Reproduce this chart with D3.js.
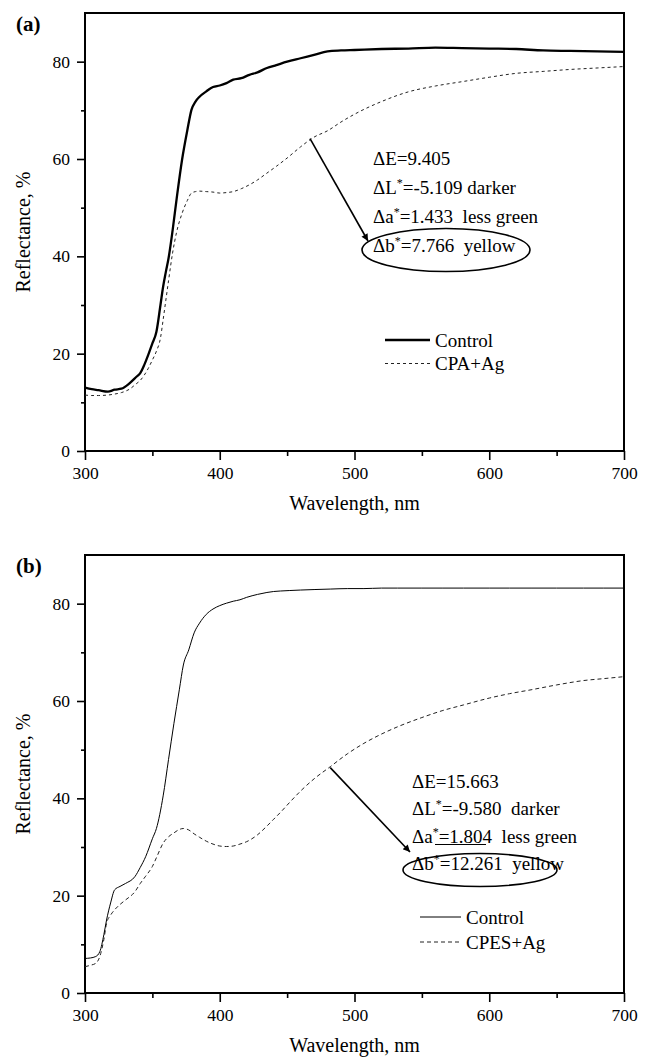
<!DOCTYPE html>
<html lang="en">
<head>
<meta charset="utf-8">
<title>Reflectance spectra</title>
<script src="https://d3js.org/d3.v7.min.js"></script>
<style>
  body { margin: 0; background: #fff; }
  svg { display: block; font-family: "Liberation Serif", "Times New Roman", serif; }
  text { white-space: pre; }
</style>
</head>
<body>
<div id="main"></div>
<script>
// ---- data ----
var wlA = [300, 305, 310, 317, 322, 327, 333, 338, 341, 344, 347, 350, 353, 356, 358, 360, 362, 365, 368, 372,
           376, 379, 382, 385, 390, 395, 400, 405, 410, 416, 422, 428, 435, 442, 450, 460, 470, 480, 490, 500,
           520, 540, 560, 580, 600, 620, 640, 660, 680, 700];
var controlA = [13.0, 12.7, 12.5, 12.2, 12.6, 12.8, 13.9, 15.2, 16.0, 17.7, 19.8, 22.1, 24.5, 30.0, 33.8, 36.8, 39.6, 45.3, 51.8, 59.8,
                66.0, 70.1, 71.8, 72.8, 73.9, 74.8, 75.1, 75.6, 76.3, 76.6, 77.3, 77.8, 78.7, 79.3, 80.0, 80.7, 81.4, 82.1, 82.3, 82.4,
                82.6, 82.7, 82.9, 82.8, 82.7, 82.6, 82.3, 82.2, 82.1, 82.0];
var cpaA = [11.5, 11.4, 11.4, 11.5, 11.7, 12.0, 12.7, 13.8, 14.5, 15.6, 17.0, 18.7, 20.5, 23.2, 27.0, 31.0, 35.0, 40.7, 45.0, 48.8,
            51.5, 53.0, 53.3, 53.4, 53.3, 53.2, 53.0, 53.1, 53.3, 53.9, 54.7, 55.7, 57.1, 58.5, 60.2, 62.5, 64.5, 65.8, 67.6, 69.2,
            71.8, 73.8, 75.0, 75.9, 76.8, 77.6, 78.0, 78.4, 78.7, 79.0];

var wlB = [300, 304, 308, 311, 314, 316, 319, 322, 326, 330, 337, 341, 345, 350, 353, 358, 362, 366, 370, 373,
           377, 381, 385, 390, 395, 400, 405, 410, 415, 420, 428, 435, 440, 445, 452, 460, 470, 482, 495, 507,
           520, 532, 550, 565, 581, 600, 615, 631, 650, 670, 685, 700];
var controlB = [7.1, 7.2, 7.5, 8.5, 12.0, 15.0, 18.5, 21.2, 21.9, 22.5, 23.9, 25.8, 28.0, 31.7, 33.8, 40.5, 48.0, 55.4, 62.3, 67.4,
                70.5, 74.0, 76.0, 77.8, 78.9, 79.6, 80.1, 80.5, 80.8, 81.3, 81.9, 82.3, 82.5, 82.6, 82.7, 82.8, 82.9, 83.0, 83.1, 83.1,
                83.2, 83.2, 83.2, 83.2, 83.2, 83.2, 83.2, 83.2, 83.2, 83.2, 83.2, 83.2];
var cpesB = [5.4, 5.7, 6.1, 7.5, 11.0, 14.3, 16.0, 17.1, 18.2, 19.1, 20.8, 22.5, 24.0, 26.0, 27.8, 30.8, 32.1, 32.9, 33.6, 33.8,
             33.5, 32.7, 32.0, 31.2, 30.6, 30.2, 30.1, 30.2, 30.6, 31.1, 32.5, 34.3, 35.7, 37.1, 39.2, 41.5, 44.0, 46.5, 49.2, 51.3,
             53.2, 54.7, 56.6, 58.0, 59.2, 60.6, 61.5, 62.3, 63.3, 64.2, 64.6, 65.0];

var xTicks = [300, 400, 500, 600, 700];
var xMinor = [350, 450, 550, 650];
var yTicks = [0, 20, 40, 60, 80];
var yMinor = [10, 30, 50, 70];

var annotA = ["ΔE=9.405", "ΔL*=-5.109 darker", "Δa*=1.433  less green", "Δb*=7.766  yellow"];
var annotB = ["ΔE=15.663", "ΔL*=-9.580  darker", "Δa*=1.804  less green", "Δb*=12.261  yellow"];
var legendA = ["Control", "CPA+Ag"];
var legendB = ["Control", "CPES+Ag"];

// ---- layout ----
var W = 646, H = 1059;
var left = 85, plotW = 539, plotH = 438;

var svg = d3.select("#main").append("svg")
  .attr("width", W).attr("height", H);

svg.append("rect").attr("width", W).attr("height", H).attr("fill", "#fff");

var defs = svg.append("defs");
defs.append("marker")
  .attr("id", "arrow")
  .attr("viewBox", "0 0 10 10")
  .attr("refX", 10).attr("refY", 5)
  .attr("markerWidth", 10).attr("markerHeight", 7)
  .attr("markerUnits", "userSpaceOnUse")
  .attr("orient", "auto")
  .append("path").attr("d", "M0,0 L10,5 L0,10 z").attr("fill", "#000");

function drawPanel(cfg) {
  var g = svg.append("g").attr("transform", "translate(" + left + "," + cfg.top + ")");

  var x = d3.scaleLinear().domain([300, 700]).range([0, plotW]);
  var y = d3.scaleLinear().domain([0, 90]).range([plotH, 0]);

  // axes
  g.append("g").attr("transform", "translate(0," + plotH + ")")
    .call(d3.axisBottom(x).tickValues(xTicks).tickSize(9).tickPadding(7).tickSizeOuter(0));
  g.append("g").attr("transform", "translate(0," + plotH + ")")
    .call(d3.axisBottom(x).tickValues(xMinor).tickSize(5).tickFormat("").tickSizeOuter(0));
  g.append("g")
    .call(d3.axisLeft(y).tickValues(yTicks).tickSize(8).tickPadding(7).tickSizeOuter(0));
  g.append("g")
    .call(d3.axisLeft(y).tickValues(yMinor).tickSize(4).tickFormat("").tickSizeOuter(0));

  g.selectAll(".domain").remove();
  g.selectAll(".tick line").attr("stroke", "#000").attr("stroke-width", 1.6);
  g.selectAll(".tick text")
    .attr("font-family", "Liberation Serif, serif")
    .attr("font-size", 17.5).attr("fill", "#000");

  g.append("rect")
    .attr("width", plotW).attr("height", plotH)
    .attr("fill", "none").attr("stroke", "#000").attr("stroke-width", 2);

  // curves
  var line = d3.line()
    .x(function(d) { return x(d[0]); })
    .y(function(d) { return y(d[1]); })
    .curve(d3.curveMonotoneX);

  g.append("path")
    .datum(d3.zip(cfg.wl, cfg.ag))
    .attr("d", line)
    .attr("fill", "none").attr("stroke", "#222")
    .attr("stroke-width", 1).attr("stroke-dasharray", cfg.dash);

  g.append("path")
    .datum(d3.zip(cfg.wl, cfg.control))
    .attr("d", line)
    .attr("fill", "none").attr("stroke", "#000")
    .attr("stroke-width", cfg.controlWidth);

  // panel letter
  svg.append("text")
    .attr("x", 16).attr("y", cfg.top + 18)
    .attr("font-size", 21).attr("font-weight", "bold")
    .text(cfg.label);

  // axis titles
  g.append("text")
    .attr("x", plotW / 2).attr("y", plotH + 59)
    .attr("text-anchor", "middle").attr("font-size", 20)
    .text("Wavelength, nm");
  g.append("text")
    .attr("transform", "translate(" + (30 - left) + "," + (plotH / 2) + ") rotate(-90)")
    .attr("text-anchor", "middle").attr("font-size", 20)
    .text("Reflectance, %");

  // annotation text
  var a = cfg.annot;
  a.lines.forEach(function(s, i) {
    var t = g.append("text")
      .attr("x", a.x).attr("y", a.y0 + i * a.dy)
      .attr("font-size", 19);
    var parts = s.split("*");
    t.append("tspan").text(parts[0]);
    for (var k = 1; k < parts.length; k++) {
      t.append("tspan").attr("dy", -7).attr("font-size", 12).text("*");
      t.append("tspan").attr("dy", 7).text(parts[k]);
    }
  });

  // ellipse + arrow
  g.append("ellipse")
    .attr("cx", a.ex).attr("cy", a.ey).attr("rx", a.rx).attr("ry", a.ry)
    .attr("fill", "none").attr("stroke", "#000").attr("stroke-width", 1.6);
  g.append("line")
    .attr("x1", x(a.arrowFrom[0])).attr("y1", y(a.arrowFrom[1]))
    .attr("x2", a.arrowTo[0]).attr("y2", a.arrowTo[1])
    .attr("stroke", "#000").attr("stroke-width", 1.6)
    .attr("marker-end", "url(#arrow)");

  if (a.underline) {
    g.append("line")
      .attr("x1", a.underline[0]).attr("x2", a.underline[1])
      .attr("y1", a.underline[2]).attr("y2", a.underline[2])
      .attr("stroke", "#000").attr("stroke-width", 1);
  }

  // legend
  var L = cfg.legend;
  L.names.forEach(function(name, i) {
    var ly = L.y0 + i * L.dy;
    g.append("line")
      .attr("x1", L.x).attr("x2", L.x + L.len)
      .attr("y1", ly).attr("y2", ly)
      .attr("stroke", i === 0 ? "#000" : "#222")
      .attr("stroke-width", i === 0 ? cfg.controlWidth : 1)
      .attr("stroke-dasharray", i === 0 ? null : cfg.dash);
    g.append("text")
      .attr("x", L.x + L.len + 5).attr("y", ly + 6.5)
      .attr("font-size", 19)
      .text(name);
  });
}

drawPanel({
  top: 13, label: "(a)",
  wl: wlA, control: controlA, ag: cpaA,
  controlWidth: 2.3, dash: "3,3",
  annot: { lines: annotA, x: 288, y0: 152, dy: 29,
           ex: 361, ey: 237, rx: 84, ry: 21.5,
           arrowFrom: [467, 64.2], arrowTo: [283, 228] },
  legend: { names: legendA, x: 300, len: 45, y0: 327, dy: 23.5 }
});

drawPanel({
  top: 555, label: "(b)",
  wl: wlB, control: controlB, ag: cpesB,
  controlWidth: 1, dash: "4,3",
  annot: { lines: annotB, x: 327, y0: 232.5, dy: 27.5,
           ex: 395, ey: 315, rx: 77, ry: 16.5,
           arrowFrom: [482, 46.3], arrowTo: [325, 297],
           underline: [350, 401, 289.5] },
  legend: { names: legendB, x: 335, len: 41, y0: 362, dy: 25 }
});
</script>
</body>
</html>
